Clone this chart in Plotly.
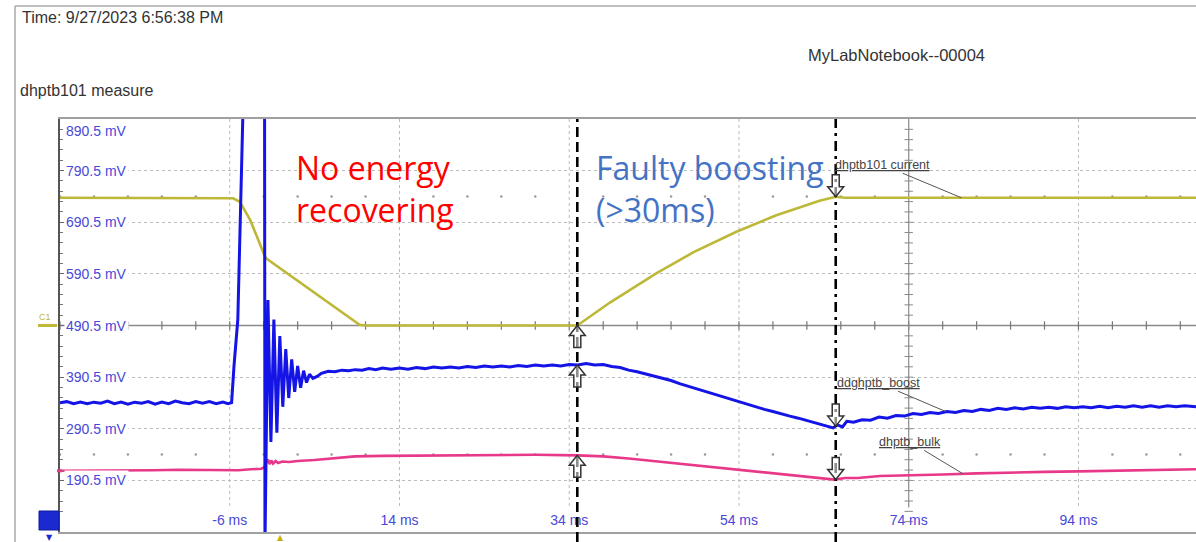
import numpy as np
import plotly.graph_objects as go

# ---------------- data ----------------
Y_TICKS_MV = [190.5, 290.5, 390.5, 490.5, 590.5, 690.5, 790.5]
Y_TOP_MV = 890.5
X_TICKS_MS = [-6, 14, 34, 54, 74, 94]
CURSOR_MS = [34.95, 65.4]

# C1 : dhptb101 current (yellow)
YELLOW_T = [-26, -6.0, -5.6, -4.8, -3.6, -2.8, -1.85, -1.6, 9.3, 10.0, 34.95,
            38.8, 44.3, 48.6, 53.7, 58.4, 63.5, 65.4, 66.5, 107.85]
YELLOW_V = [738, 738, 737, 730, 695, 663, 624, 619, 492, 490.5, 490.5,
            535, 592, 632, 672, 704, 732, 740, 738, 738]

# ddghptb_boost (blue)
BLUE_T = [-26, -25.2, -24.4, -23.6, -22.8, -22, -21.2, -20.4, -19.6, -18.8, -18,
          -17.2, -16.4, -15.6, -14.8, -14, -13.2, -12.4, -11.6, -10.8, -10, -9.2,
          -8.4, -7.6, -6.8, -6.2, -5.78,
          -5.5, -5.05, -4.9, -4.3, -1.9,
          -1.85, -1.5, -1.15, -0.8, -0.45, -0.1, 0.25, 0.6, 0.95, 1.3, 1.65, 2.0,
          2.35, 2.7, 3.05, 3.4, 3.8, 4.3,
          4.8, 5.6, 6.4, 7.2, 8.0, 8.8, 9.6, 10.4, 11.2, 12, 13, 14, 15,
          16, 17, 18, 19, 20, 21, 22, 23, 24, 25, 26, 27, 28, 29, 30, 31, 32, 33,
          34, 35, 36, 37, 38, 39, 40, 41, 42, 43, 44, 45, 46, 47, 48, 49, 50, 51,
          52, 53, 54, 55, 56, 57, 58, 59, 60, 61, 62, 63, 64, 65.1, 65.6, 66.2,
          66.7, 67.5, 68.5, 69.5, 70.5, 71.5, 72.5, 73.5, 74.5, 75.5, 76.5, 77.5,
          78.5, 79.5, 80.5, 81.5, 82.5, 83.5, 84.5, 85.5, 86.5, 87.5, 88.5, 89.5,
          90.5, 91.5, 92.5, 93.5, 94.5, 95.5, 96.5, 97.5, 98.5, 99.5, 100.5, 101.5,
          102.5, 103.5, 104.5, 105.5, 106.5, 107.85]
BLUE_V = [341, 343, 339, 342, 339, 342, 340, 344, 339, 342, 338,
          342, 340, 343, 338, 342, 339, 344, 341, 339, 343, 340,
          343, 339, 342, 339, 341,
          412, 502, 600, 1000, 1000,
          60, 540, 265, 502, 283, 470, 333, 445, 350, 425, 362, 412,
          370, 403, 380, 396, 388, 392,
          398, 402, 401, 404, 403, 405, 404, 407, 405, 408, 406, 408, 406,
          409, 407, 410, 408, 410, 408, 411, 409, 412, 410, 412, 410, 413, 411, 414, 412, 414, 412,
          415, 414, 417, 414, 415, 411, 409, 404, 401, 397, 393, 388, 384, 378, 373, 367, 362, 357,
          352, 347, 343, 338, 333, 328, 324, 319, 315, 311, 306, 302, 297, 292, 298, 294,
          305, 303, 308, 307, 313, 311, 316, 315, 320, 318, 322, 320,
          324, 322, 326, 324, 328, 326, 330, 328, 331, 329, 332, 330,
          332, 330, 333, 331, 333, 331, 334, 331, 334, 332, 335, 332,
          335, 332, 335, 333, 335, 333]

# dhptb_bulk (pink)
PINK_T = [-26, -20, -15, -12, -8, -5, -3.5, -2.3, -2.0, -1.7, -1.5, -1.3, -1.1, -0.9,
          -0.6, -0.3, 0.2, 1, 2, 4, 6, 8.75, 12, 18, 25, 30, 35, 38, 41, 44, 47, 50,
          53, 56, 59, 62, 64, 65.3, 66.5, 68, 70.6, 74, 78, 82, 86, 90, 94, 98, 102,
          107.85]
PINK_V = [209, 209, 210, 211, 210, 210, 212, 213, 215, 226, 231, 222, 229, 223,
          228, 224, 227, 226, 228, 230, 233, 237, 238, 239, 240, 240, 239, 237, 233,
          228, 222, 217, 212, 207, 202, 197, 194, 192, 195, 195, 199, 200, 202, 204,
          206, 207, 208, 209, 211, 212]

LABELS = ["dhptb101 current", "ddghptb_boost", "dhptb_bulk"]
LABEL_AT_MS = [80.2, 78.4, 80.4]

# ---------------- geometry helpers (layout only) ----------------
W, H = 1196, 542
L, R, T, B = 60, 0, 119, 10
X_RANGE = [-26, 107.85]
Y_RANGE = [90.5, 890.5]
PW, PH = W - L - R, H - T - B


def pxx(px):
    return (px - L) / PW


def pxy(py):
    return (H - B - py) / PH


TICK_BLUE = "#4848D8"
C_YEL = "#BDB838"
C_BLUE = "#1414E6"
C_PINK = "#E8388A"
GRID = "#BBBBBB"
FONT = "Arial, Liberation Sans, sans-serif"

fig = go.Figure()

# vertical dotted grid (ends above the tick labels)
gx, gy = [], []
for t in X_TICKS_MS:
    if t == 74:
        continue
    gx += [t, t, None]
    gy += [Y_TOP_MV, 138, None]
fig.add_trace(go.Scatter(x=gx, y=gy, mode="lines", hoverinfo="skip",
                         line=dict(color=GRID, width=1, dash="dot")))

# centre lines with division ticks
x_div = np.arange(-26, 108, 4)
fig.add_trace(go.Scatter(x=[X_RANGE[0], X_RANGE[1]], y=[490.5, 490.5], mode="lines",
                         line=dict(color="#8a8a8a", width=1.3), hoverinfo="skip"))
fig.add_trace(go.Scatter(x=x_div, y=[490.5] * len(x_div), mode="markers", hoverinfo="skip",
                         marker=dict(symbol="line-ns", size=6,
                                     line=dict(color="#777", width=1.2))))
y_div = np.arange(110.5, 890.5, 20)
fig.add_trace(go.Scatter(x=[74, 74], y=[Y_TOP_MV, 138], mode="lines",
                         line=dict(color="#8a8a8a", width=1.2), hoverinfo="skip"))
fig.add_trace(go.Scatter(x=[74] * len(y_div), y=y_div, mode="markers", hoverinfo="skip",
                         marker=dict(symbol="line-ew", size=6,
                                     line=dict(color="#888", width=1))))
# quarter-division dots
dx = [t for t in x_div if t not in X_TICKS_MS]
fig.add_trace(go.Scatter(x=dx * 2, y=[740.5] * len(dx) + [240.5] * len(dx),
                         mode="markers", hoverinfo="skip",
                         marker=dict(size=2.5, color="#999")))

# signals
fig.add_trace(go.Scatter(x=PINK_T, y=PINK_V, mode="lines", name="dhptb_bulk",
                         line=dict(color=C_PINK, width=2.6)))
fig.add_trace(go.Scatter(x=YELLOW_T, y=YELLOW_V, mode="lines", name="dhptb101 current",
                         line=dict(color=C_YEL, width=2.6)))
fig.add_trace(go.Scatter(x=BLUE_T, y=BLUE_V, mode="lines", name="ddghptb_boost",
                         line=dict(color=C_BLUE, width=3)))

shapes = []
# cursors
shapes.append(dict(type="line", xref="x", yref="paper", x0=CURSOR_MS[0], x1=CURSOR_MS[0],
                   y0=pxy(542), y1=1, line=dict(color="black", width=2.6, dash="10px,5px")))
shapes.append(dict(type="line", xref="x", yref="paper", x0=CURSOR_MS[1], x1=CURSOR_MS[1],
                   y0=pxy(542), y1=1,
                   line=dict(color="black", width=2.6, dash="10px,5px,3px,5px")))

series = [(YELLOW_T, YELLOW_V), (BLUE_T, BLUE_V), (PINK_T, PINK_V)]
# hollow block arrows on the cursors (tip on the trace)
UP_PATH = "M0,0 L-8,-10 L-3.5,-10 L-3.5,-22 L3.5,-22 L3.5,-10 L8,-10 Z"
DOWN_PATH = "M0,0 L-8,10 L-3.5,10 L-3.5,22 L3.5,22 L3.5,10 L8,10 Z"
for st, sv in series:
    for cur, path in ((CURSOR_MS[0], UP_PATH), (CURSOR_MS[1], DOWN_PATH)):
        shapes.append(dict(type="path", xref="x", yref="y", xsizemode="pixel",
                           ysizemode="pixel", xanchor=cur,
                           yanchor=float(np.interp(cur, st, sv)), path=path,
                           fillcolor="rgba(255,255,255,0.55)",
                           line=dict(color="#333", width=1.5), layer="above"))

# window frame
shapes.append(dict(type="line", xref="paper", yref="paper", x0=pxx(15), x1=pxx(15),
                   y0=pxy(6), y1=pxy(542), line=dict(color="#A8A8A8", width=1.5)))
shapes.append(dict(type="line", xref="paper", yref="paper", x0=pxx(15), x1=pxx(1196),
                   y0=pxy(6), y1=pxy(6), line=dict(color="#A8A8A8", width=1.5)))
# channel markers on the left
shapes.append(dict(type="line", xref="paper", yref="y", x0=pxx(38), x1=pxx(57),
                   y0=490.5, y1=490.5, line=dict(color=C_YEL, width=3)))
shapes.append(dict(type="line", xref="paper", yref="y", x0=pxx(57), x1=pxx(62),
                   y0=PINK_V[0], y1=PINK_V[0], line=dict(color=C_PINK, width=3)))
shapes.append(dict(type="rect", xref="paper", yref="paper", x0=pxx(39), x1=pxx(59),
                   y0=pxy(530), y1=pxy(511), fillcolor="#1A2AD0",
                   line=dict(color="#0A1A99", width=1)))

ann = []
# y tick labels (white box hides traces/grid, as on the scope)
for v in Y_TICKS_MV:
    ann.append(dict(xref="paper", yref="y", x=pxx(64), y=v, xanchor="left",
                    yanchor="middle", text=f"{v} mV", showarrow=False,
                    bgcolor="white", borderpad=1,
                    font=dict(family=FONT, size=14, color=TICK_BLUE)))
ann.append(dict(xref="paper", yref="y", x=pxx(64), y=Y_TOP_MV, xanchor="left",
                yanchor="top", yshift=-2, text=f"{Y_TOP_MV} mV", showarrow=False,
                font=dict(family=FONT, size=14, color=TICK_BLUE)))

# header texts
ann.append(dict(xref="paper", yref="paper", x=pxx(20), y=pxy(18), xanchor="left",
                yanchor="middle", text="Time: 9/27/2023 6:56:38 PM", showarrow=False,
                font=dict(family=FONT, size=16, color="#333")))
ann.append(dict(xref="paper", yref="paper", x=pxx(806), y=pxy(55), xanchor="left",
                yanchor="middle", text="MyLabNotebook--00004", showarrow=False,
                font=dict(family=FONT, size=16.5, color="#333")))
ann.append(dict(xref="paper", yref="paper", x=pxx(18), y=pxy(91), xanchor="left",
                yanchor="middle", text="dhptb101 measure", showarrow=False,
                font=dict(family=FONT, size=16, color="#333")))
ann.append(dict(xref="paper", yref="y", x=pxx(45), y=490.5, xanchor="center",
                yanchor="bottom", yshift=2, text="C1", showarrow=False,
                font=dict(family=FONT, size=9, color=C_YEL)))
ann.append(dict(xref="paper", yref="paper", x=pxx(49), y=pxy(531), xanchor="center",
                yanchor="top", text="▼", showarrow=False,
                font=dict(family="DejaVu Sans", size=8, color="#1A2AD0")))
ann.append(dict(xref="x", yref="paper", x=0, y=pxy(532), xanchor="center",
                yanchor="top", text="▲", showarrow=False, borderpad=0,
                font=dict(family="DejaVu Sans", size=8, color="#C8B400")))

# trace labels with leader lines
offsets = [(-79, -33), (-68, -29), (-53, -32)]
for lab, t, (st, sv), (ax, ay) in zip(LABELS, LABEL_AT_MS, series, offsets):
    ann.append(dict(xref="x", yref="y", x=t, y=float(np.interp(t, st, sv)),
                    text=f"<u>{lab}</u>", showarrow=True, arrowhead=0,
                    arrowwidth=1, arrowcolor="#555", ax=ax, ay=ay,
                    font=dict(family=FONT, size=12.5, color="#444")))

# big comments
ann.append(dict(xref="paper", yref="paper", x=pxx(294), y=pxy(188), xanchor="left",
                yanchor="middle", align="left", text="No energy<br>recovering",
                showarrow=False, font=dict(family="Open Sans", size=32, color="#FF0000")))
ann.append(dict(xref="paper", yref="paper", x=pxx(594), y=pxy(188), xanchor="left",
                yanchor="middle", align="left", text="Faulty boosting<br>(>30ms)",
                showarrow=False, font=dict(family="Open Sans", size=32, color="#4472C4")))

fig.update_layout(
    width=W, height=H, margin=dict(l=L, r=R, t=T, b=B),
    paper_bgcolor="white", plot_bgcolor="white", showlegend=False,
    shapes=shapes, annotations=ann,
    xaxis=dict(range=X_RANGE, tickvals=X_TICKS_MS,
               ticktext=[f"{v} ms" for v in X_TICKS_MS],
               ticklabelposition="inside", ticklabelstandoff=4, ticks="",
               showgrid=False, zeroline=False,
               showline=True, mirror=True, linecolor="#A0A0A0", linewidth=1.5,
               tickfont=dict(family=FONT, size=14, color=TICK_BLUE)),
    yaxis=dict(range=Y_RANGE, tickvals=Y_TICKS_MV, showticklabels=False,
               showgrid=True, gridcolor=GRID, griddash="dot", gridwidth=1,
               zeroline=False, showline=True, linecolor="#555", linewidth=1.5,
               ticks="inside", ticklen=4, tickcolor="#666",
               minor=dict(dtick=20, tick0=90.5, ticks="inside", ticklen=3,
                          tickcolor="#777", showgrid=False)),
)

fig.write_html("out.html")
